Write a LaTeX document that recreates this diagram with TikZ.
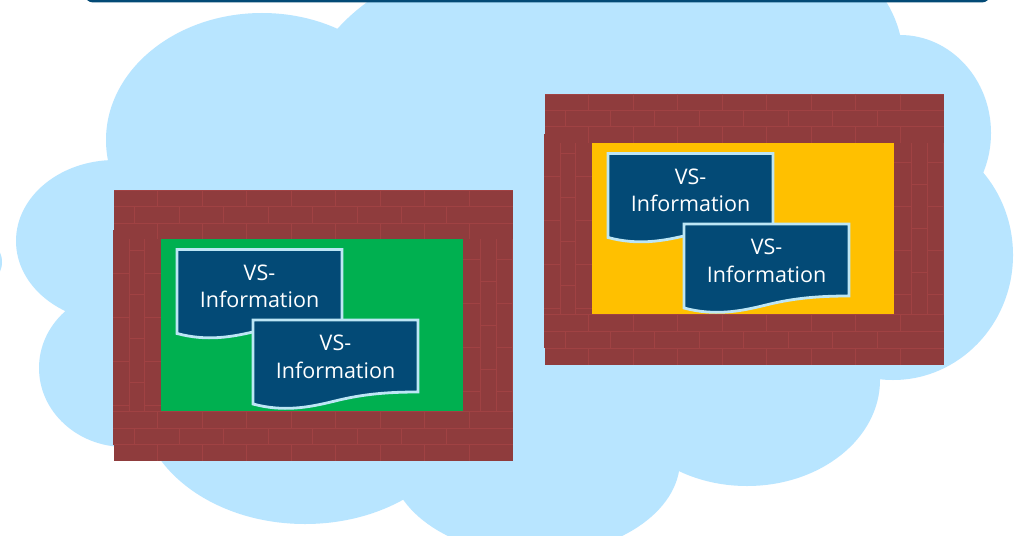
\documentclass[tikz,border=0pt]{standalone}
\usepackage{fontspec}
\setmainfont{Open Sans}
\definecolor{cloudblue}{HTML}{B8E5FF}
\definecolor{brick}{HTML}{8F3C3D}
\definecolor{mortar}{HTML}{A04243}
\definecolor{docblue}{HTML}{034A76}
\definecolor{docedge}{HTML}{BDE6F5}
\definecolor{gruen}{HTML}{00B050}
\definecolor{gelb}{HTML}{FFC000}
\tikzset{
  wallpart/.style={fill=brick,draw=none},
  joint/.style={draw=mortar,line width=0.6pt},
  docshape/.style={fill=docblue,draw=docedge,line width=2.8pt,line join=miter},
  doclabel/.style={text=white,align=center,font=\fontsize{21.5}{27.5}\selectfont,inner sep=0pt},
}
\newcommand{\hjoints}[3]{% x-start, y-top, y-bottom
  \foreach \n in {0,...,7}{\pgfmathsetmacro{\xx}{#1+44.5*\n}
    \ifdim\xx pt<399pt \draw[joint] (\xx,#2) -- (\xx,#3);\fi}}
\newcommand{\vjoints}[3]{% y-start, x-left, x-right
  \foreach \n in {0,...,3}{\pgfmathsetmacro{\yy}{#1+44*\n}
    \ifdim\yy pt<221pt \draw[joint] (#2,\yy) -- (#3,\yy);\fi}}
\newcommand{\brickroom}[3]{% shift x, shift y, room colour
\begin{scope}[shift={(#1,#2)}]
  \fill[wallpart] (0,0) rectangle (399,49);
  \fill[wallpart] (-1,40) rectangle (47.3,221);
  \fill[wallpart] (349.3,49) rectangle (399,221);
  \fill[wallpart] (-1,221) rectangle (399,254.5);
  \fill[wallpart] (0,254.5) rectangle (399,271);
  \fill[#3] (47.3,49) rectangle (349.3,221);
  % top wall
  \draw[joint] (0,0.3) -- (399,0.3);
  \draw[joint] (0,16.5) -- (399,16.5);
  \draw[joint] (0,33) -- (399,33);
  \hjoints{43.3}{0}{16.5}
  \hjoints{20.5}{16.5}{33}
  \hjoints{43.3}{33}{49}
  % bottom wall
  \draw[joint] (-1,221) -- (399,221);
  \draw[joint] (-1,238) -- (399,238);
  \draw[joint] (0,254.5) -- (399,254.5);
  \hjoints{43.3}{221}{238}
  \hjoints{20.5}{238}{254.5}
  \hjoints{43.3}{254.5}{271}
  % left wall
  \draw[joint] (15,49) -- (15,221);
  \draw[joint] (30.5,49) -- (30.5,221);
  \vjoints{83}{-1}{15}
  \vjoints{83}{30.5}{47.3}
  \vjoints{60}{15}{30.5}
  % right wall
  \draw[joint] (366,49) -- (366,221);
  \draw[joint] (382,49) -- (382,221);
  \draw[joint] (398.5,49) -- (398.5,221);
  \vjoints{69}{349.3}{366}
  \vjoints{69}{382}{398.5}
  \vjoints{91}{366}{382}
\end{scope}}
\newcommand{\vsdoc}[3]{% name, x, y
  \draw[docshape,shift={(#2,#3)}] (0,0) -- (165,0) -- (165,72)
    .. controls (135,72) and (110,74) .. (82,81)
    .. controls (55,87.75) and (30,92) .. (0,84) -- cycle;
  \node[doclabel,anchor=center] (#1) at ({#2+82.5},{#3+37}) {VS-\\Information};}
\begin{document}
\begin{tikzpicture}[x=1pt,y=-1pt]
\useasboundingbox (0,0) rectangle (1027,535);
\begin{scope}
\clip (0,0) rectangle (1027,535);
\fill[white] (0,0) rectangle (1027,535);
% cloud
\foreach \cx/\cy/\rx/\ry in {262/140/156/127, 115/241/99/81, 125/368/86/79,
    305/400/165/124, 535/460/145/95, 747/380/133/106, 893/255/120/125,
    900/133/91/98, 540/120/240/170, 769/60/134/120, -30/262/32/28}{
  \fill[cloudblue] (\cx,\cy) ellipse [x radius=\rx,y radius=\ry];}
\fill[cloudblue] (150,200) rectangle (850,420);
% top bar
\fill[docblue,rounded corners=8pt] (85,-20) rectangle (990,2.5);
\end{scope}
\brickroom{114}{190}{gruen}
\brickroom{545}{93.5}{gelb}
\vsdoc{a}{177}{249.5}
\vsdoc{b}{253}{320}
\vsdoc{c}{608}{153.5}
\vsdoc{d}{684}{224}
\end{tikzpicture}
\end{document}
